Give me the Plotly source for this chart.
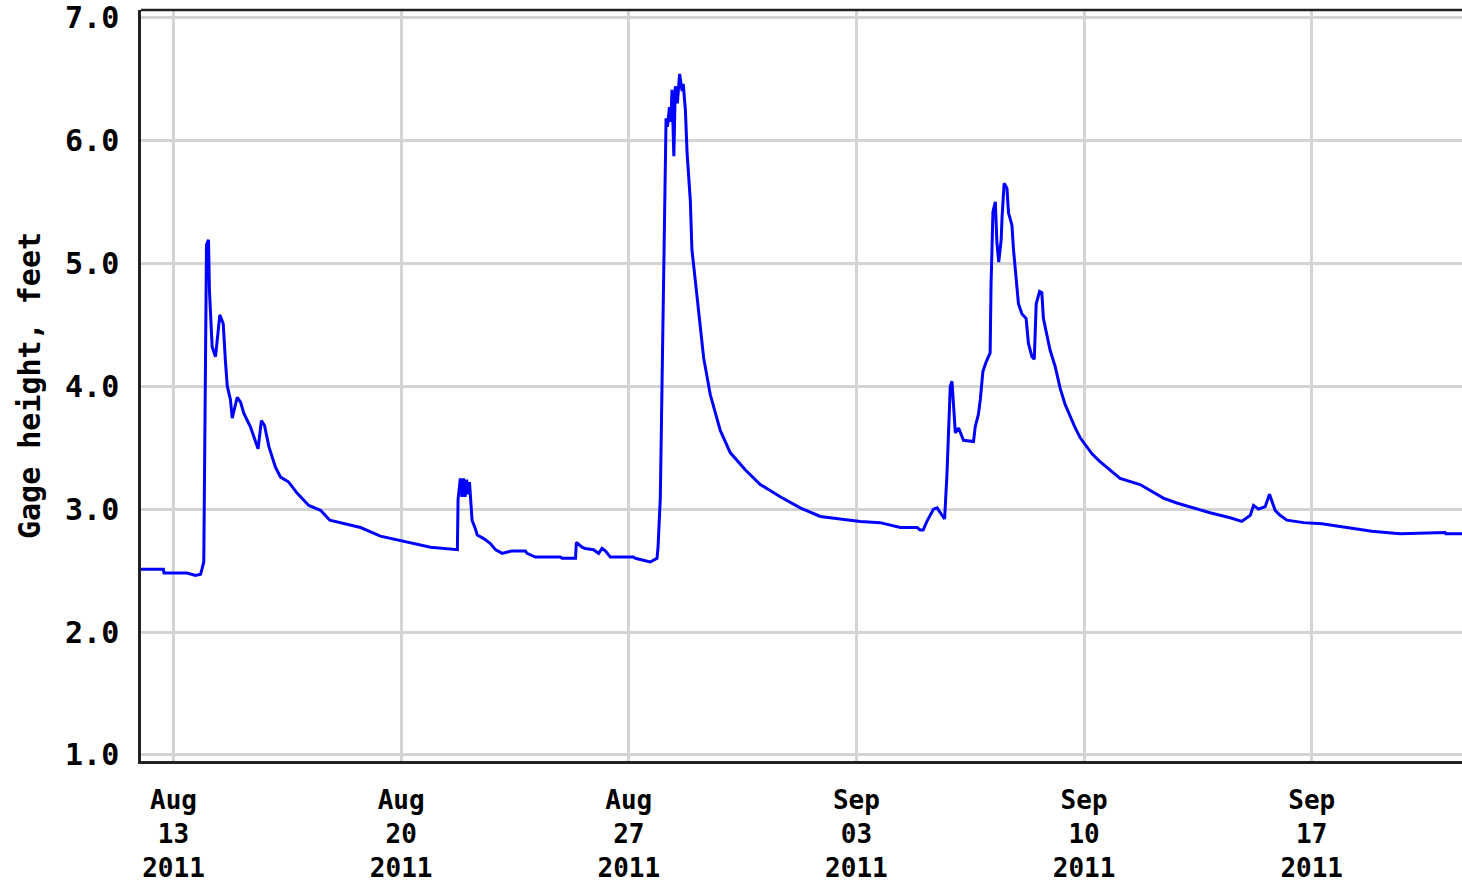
import plotly.graph_objects as go

# Gage height readings (time, feet)
times = [
    "2011-08-12 00:00", "2011-08-12 16:30", "2011-08-12 17:00", "2011-08-13 10:00",
    "2011-08-13 16:10", "2011-08-13 20:00", "2011-08-13 22:20", "2011-08-13 22:50",
    "2011-08-14 00:20", "2011-08-14 01:50", "2011-08-14 02:30", "2011-08-14 04:30",
    "2011-08-14 07:00", "2011-08-14 10:10", "2011-08-14 12:40", "2011-08-14 14:20",
    "2011-08-14 15:40", "2011-08-14 18:00", "2011-08-14 19:20", "2011-08-14 23:00",
    "2011-08-15 01:30", "2011-08-15 03:50", "2011-08-15 08:45", "2011-08-15 14:25",
    "2011-08-15 16:50", "2011-08-15 19:10", "2011-08-15 22:20", "2011-08-16 03:15",
    "2011-08-16 07:00", "2011-08-16 13:00", "2011-08-16 19:10", "2011-08-17 03:50",
    "2011-08-17 12:30", "2011-08-17 19:20", "2011-08-18 03:10", "2011-08-18 18:00",
    "2011-08-19 08:40", "2011-08-20 00:10", "2011-08-20 21:40", "2011-08-21 17:30",
    "2011-08-21 18:00", "2011-08-21 19:40", "2011-08-21 20:50", "2011-08-21 22:00",
    "2011-08-21 23:10", "2011-08-22 00:20", "2011-08-22 01:20", "2011-08-22 02:25",
    "2011-08-22 03:10", "2011-08-22 04:20", "2011-08-22 06:45", "2011-08-22 08:10",
    "2011-08-22 12:55", "2011-08-22 17:50", "2011-08-22 21:35", "2011-08-23 02:30",
    "2011-08-23 09:50", "2011-08-23 19:40", "2011-08-23 20:55", "2011-08-24 03:00",
    "2011-08-24 21:35", "2011-08-24 22:45", "2011-08-25 08:40", "2011-08-25 09:20",
    "2011-08-25 13:30", "2011-08-25 15:50", "2011-08-25 22:00", "2011-08-26 01:45",
    "2011-08-26 04:15", "2011-08-26 06:40", "2011-08-26 10:20", "2011-08-27 03:20",
    "2011-08-27 04:50", "2011-08-27 15:50", "2011-08-27 20:50", "2011-08-27 21:35",
    "2011-08-27 23:15", "2011-08-28 01:15", "2011-08-28 03:30", "2011-08-28 04:30",
    "2011-08-28 06:00", "2011-08-28 07:00", "2011-08-28 07:55", "2011-08-28 09:15",
    "2011-08-28 10:20", "2011-08-28 11:50", "2011-08-28 13:30", "2011-08-28 15:20",
    "2011-08-28 16:10", "2011-08-28 17:45", "2011-08-28 19:00", "2011-08-28 21:25",
    "2011-08-28 22:35", "2011-08-29 01:10", "2011-08-29 03:35", "2011-08-29 05:35",
    "2011-08-29 07:15", "2011-08-29 12:10", "2011-08-29 19:30", "2011-08-30 02:50",
    "2011-08-30 13:55", "2011-08-31 01:00", "2011-08-31 15:45", "2011-09-01 06:30",
    "2011-09-01 21:20", "2011-09-02 12:00", "2011-09-03 02:50", "2011-09-03 17:30",
    "2011-09-04 08:20", "2011-09-04 20:55", "2011-09-04 23:00", "2011-09-05 01:15",
    "2011-09-05 04:00", "2011-09-05 08:55", "2011-09-05 11:30", "2011-09-05 15:10",
    "2011-09-05 17:05", "2011-09-05 18:50", "2011-09-05 21:15", "2011-09-05 22:30",
    "2011-09-05 23:30", "2011-09-06 01:00", "2011-09-06 03:25", "2011-09-06 07:00",
    "2011-09-06 14:25", "2011-09-06 15:40", "2011-09-06 18:00", "2011-09-06 19:25",
    "2011-09-06 21:20", "2011-09-06 23:50", "2011-09-07 02:40", "2011-09-07 03:20",
    "2011-09-07 04:45", "2011-09-07 06:30", "2011-09-07 07:40", "2011-09-07 09:00",
    "2011-09-07 10:50", "2011-09-07 11:30", "2011-09-07 13:00", "2011-09-07 15:05",
    "2011-09-07 16:15", "2011-09-07 18:45", "2011-09-07 19:55", "2011-09-07 21:50",
    "2011-09-07 23:35", "2011-09-08 02:05", "2011-09-08 05:15", "2011-09-08 06:55",
    "2011-09-08 09:30", "2011-09-08 11:15", "2011-09-08 12:40", "2011-09-08 15:10",
    "2011-09-08 16:50", "2011-09-08 18:00", "2011-09-08 20:35", "2011-09-08 23:00",
    "2011-09-09 02:40", "2011-09-09 06:25", "2011-09-09 10:05", "2011-09-09 13:45",
    "2011-09-09 17:30", "2011-09-09 21:10", "2011-09-10 02:10", "2011-09-10 05:50",
    "2011-09-10 11:20", "2011-09-10 19:10", "2011-09-11 02:35", "2011-09-11 17:20",
    "2011-09-12 10:30", "2011-09-12 20:25", "2011-09-13 08:40", "2011-09-13 21:00",
    "2011-09-14 11:50", "2011-09-14 20:25", "2011-09-15 02:40", "2011-09-15 05:05",
    "2011-09-15 08:45", "2011-09-15 13:40", "2011-09-15 16:50", "2011-09-15 18:35",
    "2011-09-15 21:00", "2011-09-16 00:40", "2011-09-16 05:40", "2011-09-16 18:00",
    "2011-09-17 07:30", "2011-09-18 01:55", "2011-09-18 20:25", "2011-09-19 17:15",
    "2011-09-20 17:30", "2011-09-21 02:25", "2011-09-21 03:00", "2011-09-21 15:00",
]
gage_ft = [
    2.51, 2.51, 2.48, 2.48,
    2.46, 2.47, 2.57, 3.37,
    5.15, 5.19, 4.78, 4.32,
    4.24, 4.58, 4.51, 4.20,
    4.00, 3.89, 3.74, 3.91,
    3.87, 3.78, 3.67, 3.49,
    3.72, 3.68, 3.51, 3.34,
    3.26, 3.22, 3.13, 3.03,
    2.99, 2.91, 2.89, 2.85,
    2.78, 2.74, 2.69, 2.67,
    3.08, 3.25, 3.10, 3.25,
    3.10, 3.24, 3.12, 3.22,
    3.08, 2.91, 2.84, 2.79,
    2.76, 2.72, 2.67, 2.64,
    2.66, 2.66, 2.64, 2.61,
    2.61, 2.60, 2.60, 2.73,
    2.69, 2.68, 2.67, 2.64,
    2.68, 2.66, 2.61, 2.61,
    2.60, 2.57, 2.60, 2.69,
    3.09, 4.58, 6.18, 6.11,
    6.27, 6.15, 6.41, 5.87,
    6.44, 6.30, 6.54, 6.40,
    6.46, 6.25, 5.90, 5.51,
    5.11, 4.85, 4.59, 4.43,
    4.23, 3.93, 3.64, 3.46,
    3.32, 3.20, 3.10, 3.01,
    2.94, 2.92, 2.90, 2.89,
    2.85, 2.85, 2.83, 2.83,
    2.90, 3.00, 3.01, 2.95,
    2.92, 3.29, 4.00, 4.04,
    3.86, 3.62, 3.66, 3.56,
    3.55, 3.67, 3.77, 3.89,
    4.12, 4.20, 4.27, 4.82,
    5.42, 5.50, 5.17, 5.01,
    5.19, 5.38, 5.65, 5.61,
    5.41, 5.31, 5.11, 4.89,
    4.67, 4.59, 4.55, 4.35,
    4.24, 4.22, 4.67, 4.77,
    4.76, 4.55, 4.42, 4.29,
    4.16, 3.98, 3.85, 3.75,
    3.66, 3.58, 3.51, 3.45,
    3.39, 3.32, 3.25, 3.20,
    3.09, 3.05, 3.01, 2.97,
    2.93, 2.90, 2.95, 3.03,
    3.00, 3.02, 3.12, 3.06,
    2.99, 2.95, 2.91, 2.89,
    2.88, 2.85, 2.82, 2.80,
    2.81, 2.81, 2.80, 2.80,
]

x_tick_dates = ["2011-08-13", "2011-08-20", "2011-08-27", "2011-09-03", "2011-09-10", "2011-09-17"]
x_tick_text = ["Aug<br>13<br>2011", "Aug<br>20<br>2011", "Aug<br>27<br>2011",
               "Sep<br>03<br>2011", "Sep<br>10<br>2011", "Sep<br>17<br>2011"]
y_tick_vals = [1.0, 2.0, 3.0, 4.0, 5.0, 6.0, 7.0]
y_tick_text = ["1.0", "2.0", "3.0", "4.0", "5.0", "6.0", "7.0"]

FONT = "DejaVu Sans Mono"

fig = go.Figure()
fig.add_trace(go.Scatter(
    x=times, y=gage_ft, mode="lines",
    line=dict(color="#0000ff", width=3),
    showlegend=False, hoverinfo="x+y",
))

fig.update_layout(
    width=1462, height=885,
    margin=dict(l=141, r=0, t=10, b=124),
    paper_bgcolor="white", plot_bgcolor="white",
    font=dict(family=FONT, color="black", size=28, weight="bold"),
    xaxis=dict(
        type="date", automargin=False,
        range=["2011-08-12 00:00", "2011-09-21 14:55"],
        tickmode="array", tickvals=x_tick_dates, ticktext=x_tick_text,
        showgrid=True, gridcolor="#d4d4d4", gridwidth=2.5,
        showline=True, linecolor="#222222", linewidth=2.5,
        ticks="", ticklabelstandoff=14, ticklabeloverflow="allow",
        tickfont=dict(family=FONT, size=26, color="black", weight="bold"),
        zeroline=False,
    ),
    yaxis=dict(
        automargin=False,
        range=[0.951, 7.06],
        tickmode="array", tickvals=y_tick_vals, ticktext=y_tick_text,
        showgrid=True, gridcolor="#d4d4d4", gridwidth=2.5,
        showline=True, linecolor="#222222", linewidth=2.5,
        ticks="", ticklabelstandoff=13, ticklabeloverflow="allow",
        tickfont=dict(family=FONT, size=30, color="black", weight="bold"),
        title=dict(text="Gage height, feet", standoff=16,
                   font=dict(family=FONT, size=30, color="black", weight="bold")),
        zeroline=False,
    ),
    shapes=[dict(type="line", xref="paper", yref="paper", x0=0, x1=1, y0=1, y1=1,
                 line=dict(color="#222222", width=2.5))],
)

fig.write_html("out.html", config={"displayModeBar": False},
               post_script="document.body.style.margin='0';")
